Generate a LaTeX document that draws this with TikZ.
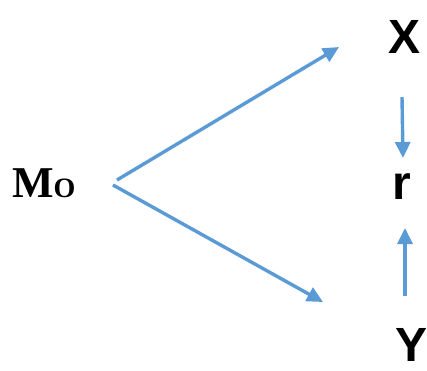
\documentclass[tikz,border=0pt]{standalone}
\usepackage{fontspec}
\setmainfont{Liberation Serif}
\setsansfont{Liberation Sans}
\usetikzlibrary{arrows.meta}
\definecolor{arrblue}{HTML}{5B9BD5}
\tikzset{
  conn/.style={draw=arrblue, line width=3.4pt, -{Triangle[length=16pt,width=15pt]}},
  lbl/.style={inner sep=0pt, anchor=base, font=\sffamily\bfseries\fontsize{48}{48}\selectfont}
}
\begin{document}
\begin{tikzpicture}[x=1pt,y=-1pt]
\useasboundingbox (0,0) rectangle (427,370);
\node[inner sep=0pt, anchor=base west] (m) at (12,197) {\bfseries\fontsize{44}{44}\selectfont M{\fontsize{28}{28}\selectfont O}};
\node[lbl] (x) at (404,53) {X};
\node[lbl] (r) at (402,199) {r};
\node[lbl] (y) at (411,361) {Y};
\coordinate (a1s) at (117,180);
\coordinate (a1e) at (339,47);
\coordinate (a2s) at (113,185);
\coordinate (a2e) at (323,302);
\coordinate (a3s) at (402,97);
\coordinate (a3e) at (403,158);
\coordinate (a4s) at (405,296);
\coordinate (a4e) at (405,228);
\draw[conn] (a1s) -- (a1e);
\draw[conn] (a2s) -- (a2e);
\draw[conn] (a3s) -- (a3e);
\draw[conn] (a4s) -- (a4e);
\end{tikzpicture}
\end{document}
